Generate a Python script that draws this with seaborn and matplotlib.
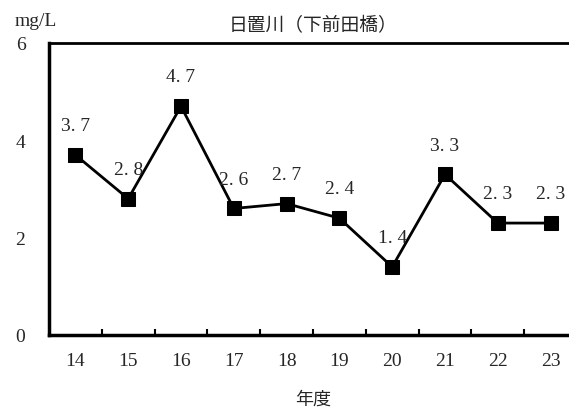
import matplotlib
matplotlib.use("Agg")
import matplotlib.pyplot as plt
import seaborn as sns
import pandas as pd
from matplotlib.ticker import FixedLocator

years = ["14", "15", "16", "17", "18", "19", "20", "21", "22", "23"]
values = [3.7, 2.8, 4.7, 2.6, 2.7, 2.4, 1.4, 3.3, 2.3, 2.3]
title = "日置川（下前田橋）"
unit = "mg/L"
xlabel = "年度"

sns.set_theme(style="white")
plt.rcParams['font.family'] = ['Liberation Serif', 'Noto Sans CJK JP', 'DejaVu Sans']

df = pd.DataFrame({"year": years, "value": values})

fig = plt.figure(figsize=(5.69, 4.10), dpi=100)
W, H = 569, 410
left, right, top, bottom = 49, 577, 44, 336
ax = fig.add_axes([left / W, 1 - bottom / H, (right - left) / W, (bottom - top) / H])

sns.lineplot(data=df, x="year", y="value", ax=ax, color="black", linewidth=2,
             marker="s", markersize=10, markeredgecolor="black", sort=False)

for i, v in enumerate(values):
    ax.annotate(f"{v:.1f}".replace(".", ". "), (i, v), xytext=(0, 15), textcoords="offset points",
                ha="center", va="bottom", fontsize=14, family=['Liberation Serif'])

ax.set_xlim(-0.5, len(years) - 0.5)
ax.set_ylim(0, 6)
ax.set_yticks([0, 2, 4, 6])
ax.set_yticklabels(["0", "2", "4", "6"], fontsize=14)
ax.set_xticks(range(len(years)))
ax.set_xticklabels(years, fontsize=14)
ax.xaxis.set_minor_locator(FixedLocator([i + 0.5 for i in range(len(years) - 1)]))
ax.tick_params(axis="x", which="major", length=0, pad=12)
ax.tick_params(axis="x", which="minor", direction="in", length=4, width=1.5, bottom=True, color="black")
ax.tick_params(axis="y", which="major", length=0, pad=17)
ax.set_xlabel(xlabel, fontsize=13, family=['Noto Sans CJK JP'], labelpad=15)
ax.set_ylabel("")
for s in ["left", "bottom", "top"]:
    ax.spines[s].set_color("black")
    ax.spines[s].set_linewidth(2.5)
ax.spines["top"].set_linewidth(2)
ax.spines["right"].set_visible(False)
ax.grid(False)

fig.text(36 / W, 1 - 22 / H, unit, ha="center", va="center", fontsize=14)
ax.set_title(title, fontsize=13.5, family=['Noto Sans CJK JP'], pad=9)

fig.savefig("out.png", dpi=100)
